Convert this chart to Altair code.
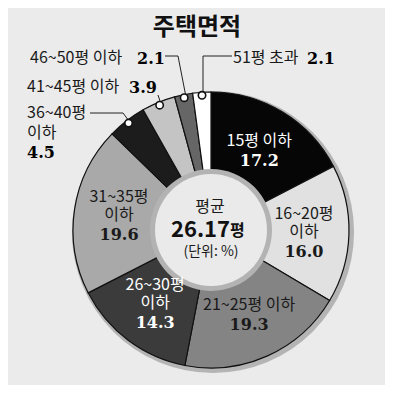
import altair as alt
import pandas as pd

# ---- data ----
categories = ["15평 이하", "16~20평 이하", "21~25평 이하", "26~30평 이하", "31~35평 이하",
              "36~40평 이하", "41~45평 이하", "46~50평 이하", "51평 초과"]
shares = [17.2, 16.0, 19.3, 14.3, 19.6, 4.5, 3.9, 2.1, 2.1]
share_labels = ["17.2", "16.0", "19.3", "14.3", "19.6", "4.5", "3.9", "2.1", "2.1"]
name_lines = [["15평 이하"], ["16~20평", "이하"], ["21~25평 이하"], ["26~30평", "이하"],
              ["31~35평", "이하"], ["36~40평", "이하"], ["41~45평 이하"], ["46~50평 이하"], ["51평 초과"]]
slice_colors = ["#060606", "#e1e1e1", "#848484", "#3b3b3b", "#a9a9a9",
                "#1c1c1c", "#c4c4c4", "#666666", "#ffffff"]
title_text = "주택면적"
avg_label = "평균"
avg_value = "26.17"
avg_unit = "평"
unit_note = "(단위: %)"

# ---- layout ----
SANS = "Noto Sans CJK KR"
SERIF = "DejaVu Serif"
CX, CY = 203, 222
R_OUT = 138
N_INSIDE = 5

rows = []
for i, (c, v, s, nl) in enumerate(zip(categories, shares, share_labels, name_lines)):
    inside = i < N_INSIDE
    two = len(nl) == 2
    rows.append({
        "idx": i, "cat": c, "value": v,
        "l1_two": nl[0] if inside and two else "",
        "l2_two": nl[1] if inside and two else "",
        "num_two": s if inside and two else "",
        "l1_one": nl[0] if inside and not two else "",
        "num_one": s if inside and not two else "",
    })
df = pd.DataFrame(rows)
one = pd.DataFrame({"k": [0]})

base = alt.Chart(df).encode(
    theta=alt.Theta("value:Q", stack=True),
    order=alt.Order("idx:Q", sort="ascending"),
    detail="cat:N",
    x=alt.value(CX), y=alt.value(CY),
)

shadow = alt.Chart(one).mark_arc(radius=R_OUT + 3, theta=0, theta2=6.2832, color="#b4b4b4").encode(
    x=alt.value(CX + 2), y=alt.value(CY + 2))

slices = base.mark_arc(outerRadius=R_OUT, innerRadius=50, stroke="#111111", strokeWidth=1.2).encode(
    color=alt.Color("cat:N", scale=alt.Scale(domain=categories, range=slice_colors), legend=None))

inner_ring = alt.Chart(one).mark_arc(radius=61, theta=0, theta2=6.2832, color="#b3b3b3").encode(
    x=alt.value(CX), y=alt.value(CY))
inner_fill = alt.Chart(one).mark_arc(radius=56, theta=0, theta2=6.2832, color="#eaeaea").encode(
    x=alt.value(CX), y=alt.value(CY))

txt_color = alt.condition("datum.idx == 0 || datum.idx == 3", alt.value("white"), alt.value("#1a1a1a"))

def slice_text(field, dy, serif=False):
    if serif:
        m = base.mark_text(radius=93, dy=dy, font=SERIF, fontWeight="bold", fontSize=16)
    else:
        m = base.mark_text(radius=93, dy=dy, font=SANS, fontSize=16)
    return m.encode(text=f"{field}:N", color=txt_color)

t_layers = [
    slice_text("l1_two", -19), slice_text("l2_two", -1), slice_text("num_two", 19, True),
    slice_text("l1_one", -10), slice_text("num_one", 10, True),
]

def label(txt, x, y, size=15, serif=False, bold=False, align="left", color="#1a1a1a"):
    return alt.Chart(one).mark_text(
        text=txt, align=align, baseline="middle", fontSize=size,
        font=SERIF if serif else SANS, fontWeight="bold" if bold else "normal", color=color,
    ).encode(x=alt.value(x), y=alt.value(y))

def seg(x1, y1, x2, y2):
    return alt.Chart(one).mark_rule(color="#222222", strokeWidth=1).encode(
        x=alt.value(x1), y=alt.value(y1), x2=alt.value(x2), y2=alt.value(y2))

R_DOT = 135
dots = alt.Chart(df).transform_window(
    cum="sum(value)", sort=[alt.SortField("idx")], frame=[None, 0]
).transform_joinaggregate(total="sum(value)").transform_calculate(
    mid="(datum.cum - datum.value / 2) / datum.total * 2 * PI"
).transform_calculate(
    px=f"{CX} + {R_DOT} * sin(datum.mid)", py=f"{CY} - {R_DOT} * cos(datum.mid)"
).transform_filter("datum.idx >= 5").mark_point(
    shape="circle", size=55, filled=True, fill="white", stroke="#111111", strokeWidth=1.6, opacity=1
).encode(x=alt.X("px:Q", scale=None, axis=None), y=alt.Y("py:Q", scale=None, axis=None))

leaders = [
    seg(157, 48, 170, 48), seg(170, 48, 178, 89),
    seg(195, 85, 195, 48), seg(195, 48, 224, 48),
    seg(150, 87, 153, 96),
    seg(82, 105, 115, 105), seg(115, 105, 121, 113),
]

outer = [
    label(name_lines[7][0], 22, 50, size=16), label(share_labels[7], 129, 51, size=16, serif=True, bold=True, color="#000"),
    label(name_lines[8][0], 225, 50, size=16), label(share_labels[8], 299, 51, size=16, serif=True, bold=True, color="#000"),
    label(name_lines[6][0], 19, 79, size=16), label(share_labels[6], 121, 80, size=16, serif=True, bold=True, color="#000"),
    label(name_lines[5][0], 19, 105, size=16), label(name_lines[5][1], 19, 125, size=16),
    label(share_labels[5], 19, 145, size=16, serif=True, bold=True, color="#000"),
]

center = [
    label(avg_label, 202, 199, size=16, align="center"),
    label(avg_value, 222, 222, size=22, bold=True, align="right", color="#111"),
    label(avg_unit, 222, 223, size=16, bold=True, align="left", color="#111"),
    label(unit_note, 203, 244, size=14, align="center"),
]

title = label(title_text, 189, 20, size=24, bold=True, align="center", color="#111")

chart = alt.layer(
    shadow, slices, inner_ring, inner_fill, *t_layers, *leaders, dots, *outer, *center, title
).properties(
    width=377, height=377, background="#ebebeb", padding=0,
    autosize=alt.AutoSizeParams(type="none"),
).configure_view(stroke=None)

chart.save("out.html", embed_options={"renderer": "svg", "actions": False})
